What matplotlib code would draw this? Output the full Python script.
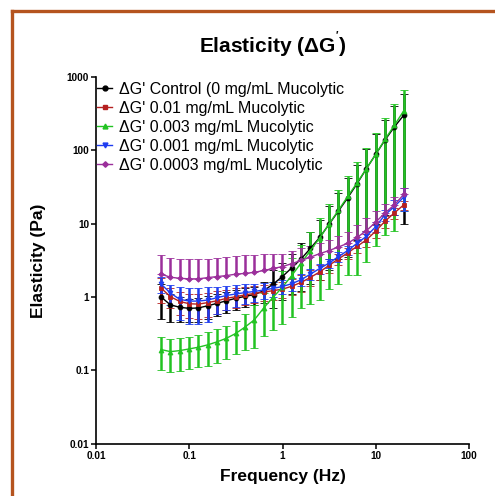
import matplotlib
matplotlib.use("Agg")
import matplotlib.pyplot as plt
from matplotlib.lines import Line2D

plt.rcParams['font.family'] = ['Liberation Sans', 'DejaVu Sans']
plt.rcParams['mathtext.fontset'] = 'custom'
plt.rcParams['mathtext.rm'] = 'Liberation Sans'
plt.rcParams['mathtext.bf'] = 'Liberation Sans:bold'

freq = [0.05, 0.0629, 0.0792, 0.0997, 0.1256, 0.1581, 0.199, 0.2506, 0.3155,
        0.3972, 0.5, 0.6295, 0.7924, 0.9976, 1.256, 1.581, 1.991, 2.506, 3.155,
        3.972, 5.0, 6.295, 7.924, 9.976, 12.56, 15.81, 19.91]

control_mean = [1.0, 0.78, 0.725, 0.70, 0.71, 0.76, 0.82, 0.89, 0.96, 1.02, 1.08,
                1.22, 1.5, 1.9, 2.5, 3.3, 4.6, 6.5, 9.8, 14.8, 22.5, 35, 56, 88,
                138, 208, 300]
control_sd = [0.5, 0.32, 0.275, 0.25, 0.25, 0.26, 0.27, 0.28, 0.29, 0.29, 0.3,
              0.4, 0.8, 1.0, 1.4, 2.1, 3.1, 4.8, 7.5, 11.5, 19, 29, 48, 78, 125,
              195, 290]

m001_mean = [1.32, 1.01, 0.87, 0.81, 0.80, 0.84, 0.89, 0.96, 1.01, 1.07, 1.12,
             1.17, 1.22, 1.28, 1.4, 1.58, 1.85, 2.2, 2.7, 3.3, 4.0, 4.9, 6.0,
             7.9, 10.8, 14, 18]
m001_sd = [0.5, 0.3, 0.3, 0.3, 0.3, 0.3, 0.3, 0.3, 0.3, 0.3, 0.3, 0.3, 0.3, 0.3,
           0.35, 0.4, 0.45, 0.5, 0.55, 0.6, 0.7, 0.9, 1.2, 1.6, 2.0, 2.3, 2.6]

m0003_mean = [0.192, 0.18, 0.186, 0.196, 0.207, 0.223, 0.245, 0.274, 0.319, 0.39,
              0.49, 0.71, 0.99, 1.36, 1.96, 2.9, 4.3, 6.4, 9.9, 15.2, 23.5, 36,
              56, 88, 141, 219, 345]
m0003_sd = [0.091, 0.085, 0.088, 0.092, 0.097, 0.107, 0.118, 0.133, 0.153, 0.2,
            0.29, 0.42, 0.63, 0.93, 1.42, 2.2, 3.5, 5.5, 8.6, 13.7, 21.5, 34, 53,
            83, 134, 211, 330]

m0001_mean = [1.5, 1.13, 0.93, 0.88, 0.88, 0.91, 0.98, 1.05, 1.1, 1.15, 1.19,
              1.25, 1.31, 1.39, 1.52, 1.72, 2.05, 2.45, 2.9, 3.55, 4.3, 5.4, 6.7,
              9.1, 13.2, 17, 23]
m0001_sd = [0.35, 0.35, 0.45, 0.45, 0.45, 0.45, 0.4, 0.38, 0.36, 0.35, 0.33, 0.3,
            0.3, 0.3, 0.3, 0.32, 0.35, 0.4, 0.45, 0.5, 0.6, 0.8, 1.1, 1.5, 2.2, 4, 8]

m00003_mean = [2.05, 1.86, 1.8, 1.77, 1.77, 1.84, 1.9, 1.96, 2.05, 2.1, 2.17, 2.3,
               2.45, 2.6, 2.85, 3.15, 3.5, 3.9, 4.3, 4.8, 5.4, 6.5, 8.0, 10.5, 14,
               18, 25]
m00003_sd = [1.7, 1.52, 1.5, 1.5, 1.5, 1.5, 1.55, 1.6, 1.62, 1.65, 1.6, 1.5, 1.35,
             1.25, 1.35, 1.45, 1.5, 1.6, 1.7, 1.9, 2.3, 3.0, 3.8, 4.5, 4.5, 5, 6]

labels = ["ΔG' Control (0 mg/mL Mucolytic",
          "ΔG' 0.01 mg/mL Mucolytic",
          "ΔG' 0.003 mg/mL Mucolytic",
          "ΔG' 0.001 mg/mL Mucolytic",
          "ΔG' 0.0003 mg/mL Mucolytic"]

xticks = [0.01, 0.1, 1, 10, 100]
xticklabels = ["0.01", "0.1", "1", "10", "100"]
yticks = [0.01, 0.1, 1, 10, 100, 1000]
yticklabels = ["0.01", "0.1", "1", "10", "100", "1000"]

W, H = 495, 496
fig = plt.figure(figsize=(W / 100, H / 100), dpi=100)
ax = fig.add_axes([96 / W, 1 - 443.7 / H, (469 - 96) / W, (443.7 - 77) / H])

series = [
    (control_mean, control_sd, '#000000', 'o', 3.5, False),
    (m001_mean, m001_sd, '#B52020', 's', 3.5, False),
    (m0003_mean, m0003_sd, '#22C322', '^', 3.5, False),
    (m0001_mean, m0001_sd, '#1E3CF0', 'v', 3.5, False),
    (m00003_mean, m00003_sd, '#9B2F9B', 'D', 2.8, True),
]

handles = []
for (mean, sd, col, mk, ms, upper_only), lab in zip(series, labels):
    if upper_only:
        yerr = [[0] * len(sd), sd]
    else:
        yerr = sd
    ax.errorbar(freq, mean, yerr=yerr, color=col, marker=mk, markersize=ms,
                linewidth=1.0, elinewidth=1.8, capsize=2.8, capthick=1.8,
                markeredgewidth=0.6)
    handles.append(Line2D([0], [0], color=col, marker=mk, markersize=ms,
                          linewidth=1.0))

ax.set_xscale('log')
ax.set_yscale('log')
ax.set_xlim(0.01, 100)
ax.set_ylim(0.01, 1000)
ax.set_xticks(xticks)
ax.set_xticklabels(xticklabels)
ax.set_yticks(yticks)
ax.set_yticklabels(yticklabels)
ax.minorticks_off()
for s in ['top', 'right']:
    ax.spines[s].set_visible(False)
for s in ['left', 'bottom']:
    ax.spines[s].set_linewidth(1.2)
ax.tick_params(axis='both', which='major', direction='out', length=3.5,
               width=1.1, labelsize=7.2, pad=1.5)
for t in ax.get_xticklabels() + ax.get_yticklabels():
    t.set_fontweight('bold')

ax.set_xlabel("Frequency (Hz)", fontsize=12.5, fontweight='bold', labelpad=6)
ax.set_ylabel("Elasticity (Pa)", fontsize=12.5, fontweight='bold', labelpad=15)

fig.text(273 / W, 1 - 45 / H, "Elasticity (ΔG$^{\\mathbf{'}}$)", ha='center',
         va='center', fontsize=15, fontweight='bold')

leg = ax.legend(handles, labels, loc='upper left',
                bbox_to_anchor=(97 / W, 1 - 82 / H),
                bbox_transform=fig.transFigure, frameon=False, fontsize=11.5,
                handlelength=0.95, handletextpad=0.4, labelspacing=0.25,
                borderpad=0, borderaxespad=0)

# page frame
fig.add_artist(Line2D([12 / W, 1.0], [1 - 11 / H, 1 - 11 / H],
                      transform=fig.transFigure, color='#B5541F', linewidth=2.4))
fig.add_artist(Line2D([12 / W, 12 / W], [0.0, 1 - 11 / H],
                      transform=fig.transFigure, color='#B5541F', linewidth=2.4))

fig.savefig("out.png", dpi=100)
